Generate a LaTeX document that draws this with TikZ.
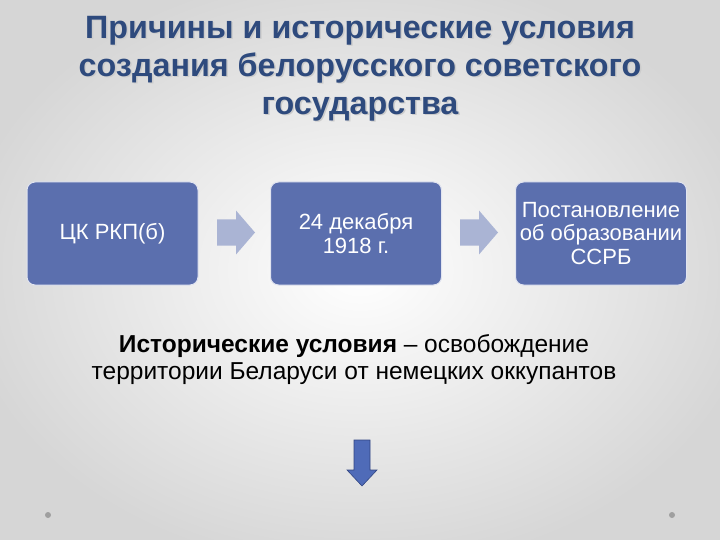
\documentclass[tikz,border=0pt]{standalone}
\usepackage{fontspec}
\setmainfont{Liberation Sans}
\usetikzlibrary{calc}
\definecolor{titleblue}{RGB}{46,74,125}
\definecolor{boxblue}{RGB}{91,111,174}
\definecolor{boxedge}{RGB}{225,228,240}
\definecolor{arrowgray}{RGB}{170,180,212}
\definecolor{downblue}{RGB}{79,107,184}
\definecolor{downedge}{RGB}{50,70,130}
\tikzset{
  titletext/.style={font=\fontsize{32.3}{38}\selectfont\bfseries, text=titleblue, align=center},
  titleshadow/.style={font=\fontsize{32.3}{38}\selectfont\bfseries, text=black!20, align=center},
  stagebox/.style={rounded corners=8pt, fill=boxblue, draw=boxedge, line width=1pt,
     minimum width=171pt, minimum height=103pt, text=white, align=center,
     font=\fontsize{22}{23.5}\selectfont, inner sep=0pt},
  rarrow/.style={fill=arrowgray, draw=none},
  darrow/.style={fill=downblue, draw=downedge, line width=0.6pt, line join=miter},
  bodytext/.style={font=\fontsize{24.5}{27}\selectfont, text=black, align=center},
  dot/.style={circle, fill=gray!75, minimum size=6pt, inner sep=0pt}
}
\begin{document}
\begin{tikzpicture}[x=1pt,y=-1pt]
\useasboundingbox (0,0) rectangle (720,540);
\begin{scope}
\clip (0,0) rectangle (720,540);
\shade[inner color=white, outer color=black!16] (-40,-30) rectangle (760,570);
\end{scope}
% title
\node[titleshadow] (tsh) at (361.5,70) {Причины и исторические условия\\создания белорусского советского\\государства};
\node[titletext] (title) at (360,68.5) {Причины и исторические условия\\создания белорусского советского\\государства};
% boxes
\node[stagebox] (b1) at (112.5,233.5) {ЦК РКП(б)};
\node[stagebox] (b2) at (356,233.5) {24 декабря\\1918 г.};
\node[stagebox] (b3) at (601,233.5) {Постановление\\об образовании\\ССРБ};
% arrows
\coordinate (a1) at (236,232.5);
\coordinate (a2) at (479,232.5);
\foreach \c in {a1,a2}{
  \fill[rarrow] ($(\c)+(-19,-13)$) -- ($(\c)+(0,-13)$) -- ($(\c)+(0,-22)$) -- ($(\c)+(19,0)$)
     -- ($(\c)+(0,22)$) -- ($(\c)+(0,13)$) -- ($(\c)+(-19,13)$) -- cycle;
}
% body text
\node[bodytext] (hist) at (354,359.5) {\textbf{Исторические условия} – освобождение\\территории Беларуси от немецких оккупантов};
% down arrow
\coordinate (dn) at (362,470);
\draw[darrow] ($(dn)+(-8,-30)$) -- ($(dn)+(8,-30)$) -- ($(dn)+(8,0)$) -- ($(dn)+(15,0)$)
   -- ($(dn)+(0,16)$) -- ($(dn)+(-15,0)$) -- ($(dn)+(-8,0)$) -- cycle;
% dots
\node[dot] (d1) at (48,515) {};
\node[dot] (d2) at (672,515) {};
\end{tikzpicture}
\end{document}
